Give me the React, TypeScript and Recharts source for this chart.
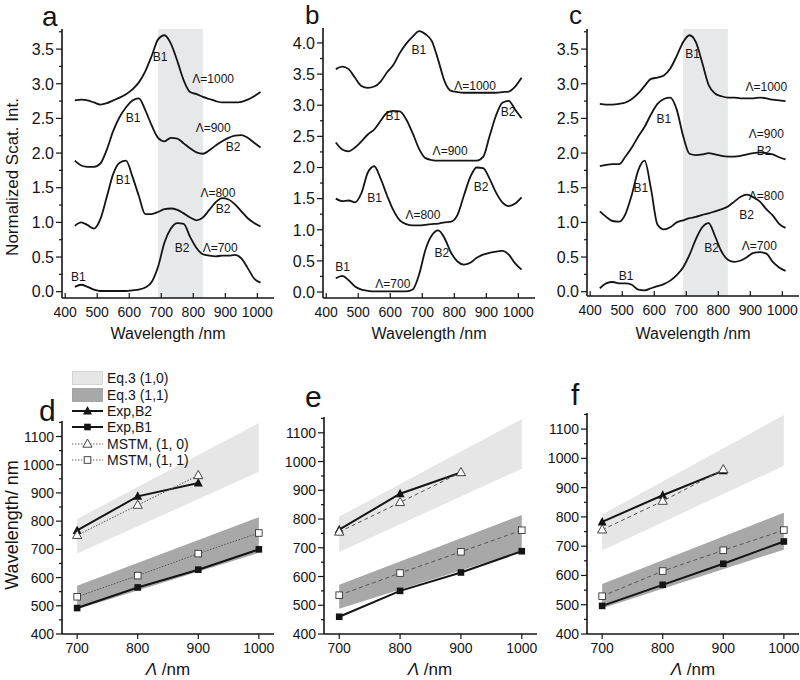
import React from "react";
import {
  LineChart,
  Line,
  ComposedChart,
  Area,
  XAxis,
  YAxis,
  ReferenceArea,
  ReferenceDot,
  Legend,
} from "recharts";

const FONT = '"Liberation Sans", Arial, Helvetica, sans-serif';
const INK = "#141414";
const LIGHT_BAND = "#e6e6e6";
const DARK_BAND = "#a8a8a8";
const SHADE = "#e7e8e9";

// ---------- top row: normalized scattering spectra (sampled every 20 nm) ----------
const wavelengths = [
  430, 450, 470, 490, 510, 530, 550, 570, 590, 610, 630, 650, 670, 690, 710,
  730, 750, 770, 790, 810, 830, 850, 870, 890, 910, 930, 950, 970, 990, 1010,
];

const a700 = [0.07, 0.1, 0.07, 0.03, 0.01, 0.01, 0.01, 0.01, 0.01, 0.02, 0.03, 0.06, 0.14, 0.36, 0.71, 0.91, 0.99, 0.98, 0.79, 0.63, 0.54, 0.52, 0.51, 0.52, 0.52, 0.53, 0.48, 0.34, 0.19, 0.13];
const a800 = [0.95, 1.0, 0.96, 0.91, 1.05, 1.37, 1.7, 1.86, 1.89, 1.66, 1.38, 1.12, 1.12, 1.15, 1.19, 1.2, 1.18, 1.13, 1.07, 1.03, 1.07, 1.18, 1.29, 1.35, 1.33, 1.26, 1.16, 1.06, 0.99, 0.94];
const a900 = [1.89, 1.82, 1.8, 1.8, 1.85, 2.05, 2.32, 2.52, 2.66, 2.76, 2.79, 2.62, 2.4, 2.22, 2.17, 2.22, 2.21, 2.14, 2.07, 2.01, 1.99, 2.04, 2.11, 2.17, 2.22, 2.25, 2.26, 2.22, 2.15, 2.08];
const a1000 = [2.76, 2.77, 2.76, 2.73, 2.7, 2.72, 2.76, 2.8, 2.85, 2.92, 3.02, 3.18, 3.4, 3.64, 3.7, 3.58, 3.33, 3.05, 2.88, 2.85, 2.81, 2.78, 2.75, 2.73, 2.73, 2.73, 2.74, 2.77, 2.82, 2.88];

const b700 = [0.22, 0.26, 0.19, 0.09, 0.04, 0.02, 0.01, 0.01, 0.01, 0.01, 0.01, 0.01, 0.04, 0.28, 0.68, 0.91, 0.99, 0.86, 0.63, 0.49, 0.44, 0.47, 0.55, 0.6, 0.63, 0.65, 0.66, 0.6, 0.46, 0.36];
const b800 = [1.5, 1.46, 1.47, 1.44, 1.59, 1.92, 2.02, 1.82, 1.55, 1.31, 1.15, 1.09, 1.07, 1.07, 1.08, 1.09, 1.1, 1.12, 1.13, 1.24, 1.55, 1.85, 2.0, 1.99, 1.82, 1.6, 1.44, 1.38, 1.42, 1.52];
const b900 = [2.4, 2.29, 2.26, 2.32, 2.42, 2.53, 2.61, 2.75, 2.88, 2.91, 2.9, 2.77, 2.55, 2.3, 2.15, 2.12, 2.11, 2.11, 2.11, 2.11, 2.11, 2.11, 2.11, 2.17, 2.5, 2.83, 3.04, 3.07, 2.93, 2.79];
const b1000 = [3.58, 3.62, 3.58, 3.44, 3.31, 3.28, 3.3, 3.38, 3.53, 3.65, 3.84, 3.99, 4.1, 4.19, 4.14, 4.03, 3.72, 3.38, 3.23, 3.21, 3.2, 3.2, 3.2, 3.2, 3.2, 3.2, 3.21, 3.22, 3.3, 3.44];

const c700 = [0.05, 0.12, 0.14, 0.12, 0.12, 0.1, 0.03, 0.02, 0.05, 0.08, 0.11, 0.16, 0.24, 0.35, 0.53, 0.76, 0.93, 0.99, 0.8, 0.58, 0.46, 0.43, 0.45, 0.5, 0.56, 0.57, 0.55, 0.43, 0.35, 0.3];
const c800 = [1.16, 1.08, 1.02, 1.01, 1.12, 1.4, 1.75, 1.89, 1.48, 0.97, 0.9, 0.93, 1.0, 1.03, 1.06, 1.08, 1.11, 1.13, 1.16, 1.19, 1.23, 1.3, 1.37, 1.4, 1.36, 1.3, 1.19, 1.1, 0.98, 0.92];
const c900 = [1.81, 1.83, 1.84, 1.84, 1.95, 2.08, 2.24, 2.38, 2.56, 2.71, 2.78, 2.8, 2.63, 2.25, 1.99, 1.97, 1.98, 2.0, 1.98, 1.96, 1.95, 1.95, 1.96, 1.98, 2.0, 2.01, 2.0, 1.98, 1.94, 1.91];
const c1000 = [2.71, 2.7, 2.7, 2.71, 2.73, 2.78, 2.86, 2.97, 3.07, 3.09, 3.12, 3.22, 3.4, 3.6, 3.7, 3.6, 3.3, 2.98, 2.86, 2.82, 2.8, 2.8, 2.79, 2.79, 2.79, 2.8, 2.79, 2.77, 2.76, 2.75];

const specXTicks = [400, 500, 600, 700, 800, 900, 1000];
const specYTicksAC = [0, 0.25, 0.5, 0.75, 1, 1.25, 1.5, 1.75, 2, 2.25, 2.5, 2.75, 3, 3.25, 3.5, 3.75];
const specYTicksB = [0, 0.25, 0.5, 0.75, 1, 1.25, 1.5, 1.75, 2, 2.25, 2.5, 2.75, 3, 3.25, 3.5, 3.75, 4];

type Note = { x: number; y: number; text: string };

const notesA: Note[] = [
  { x: 696, y: 3.39, text: "B1" },
  { x: 862, y: 3.07, text: "Λ=1000" },
  { x: 612, y: 2.51, text: "B1" },
  { x: 862, y: 2.36, text: "Λ=900" },
  { x: 924, y: 2.09, text: "B2" },
  { x: 581, y: 1.61, text: "B1" },
  { x: 877, y: 1.43, text: "Λ=800" },
  { x: 893, y: 1.19, text: "B2" },
  { x: 765, y: 0.63, text: "B2" },
  { x: 884, y: 0.63, text: "Λ=700" },
  { x: 441, y: 0.21, text: "B1" },
];
const notesB: Note[] = [
  { x: 689, y: 3.89, text: "B1" },
  { x: 865, y: 3.31, text: "Λ=1000" },
  { x: 608, y: 2.83, text: "B1" },
  { x: 968, y: 2.89, text: "B2" },
  { x: 787, y: 2.27, text: "Λ=900" },
  { x: 884, y: 1.69, text: "B2" },
  { x: 551, y: 1.51, text: "B1" },
  { x: 702, y: 1.24, text: "Λ=800" },
  { x: 761, y: 0.63, text: "B2" },
  { x: 451, y: 0.4, text: "B1" },
  { x: 608, y: 0.14, text: "Λ=700" },
];
const notesC: Note[] = [
  { x: 720, y: 3.43, text: "B1" },
  { x: 950, y: 2.95, text: "Λ=1000" },
  { x: 630, y: 2.49, text: "B1" },
  { x: 950, y: 2.28, text: "Λ=900" },
  { x: 943, y: 2.03, text: "B2" },
  { x: 558, y: 1.5, text: "B1" },
  { x: 950, y: 1.38, text: "Λ=800" },
  { x: 888, y: 1.11, text: "B2" },
  { x: 779, y: 0.63, text: "B2" },
  { x: 928, y: 0.66, text: "Λ=700" },
  { x: 512, y: 0.23, text: "B1" },
];

// ---------- bottom row: peak position vs lattice period ----------
const lambdas = [700, 800, 900, 1000];
const eq10Lo = [685, null, null, 975];
const eq10Hi = [808, null, null, 1148];
const eq11Lo = [488, null, null, 688];
const eq11Hi = [571, null, null, 814];

const expB2D = [767, 888, 935, null];
const expB1D = [492, 565, 628, 700];
const mstm10D = [750, 857, 962, null];
const mstm11D = [532, 607, 685, 758];

const expB2E = [763, 888, 962, null];
const expB1E = [460, 550, 614, 688];
const mstm10E = [755, 858, 962, null];
const mstm11E = [535, 612, 686, 761];

const expB2F = [783, 874, 958, null];
const expB1F = [496, 568, 640, 716];
const mstm10F = [756, 854, 962, null];
const mstm11F = [529, 615, 686, 755];

const lamXTicks = [700, 800, 900, 1000];
const lamYTicks = [400, 450, 500, 550, 600, 650, 700, 750, 800, 850, 900, 950, 1000, 1050, 1100, 1150];

const toSpecRows = (s700: number[], s800: number[], s900: number[], s1000: number[]) =>
  wavelengths.map((wl, i) => ({ wl, s700: s700[i], s800: s800[i], s900: s900[i], s1000: s1000[i] }));

const toLamRows = (b2: any[], b1: any[], m10: any[], m11: any[]) =>
  lambdas.map((lam, i) => ({
    lam,
    b2: b2[i],
    b1: b1[i],
    m10: m10[i],
    m11: m11[i],
    lo10: eq10Lo[i],
    hi10: eq10Hi[i],
    lo11: eq11Lo[i],
    hi11: eq11Hi[i],
  }));

// ---------- ticks ----------
const SpecYTick = ({ x, y, payload }: any) => {
  const v = payload.value;
  const major = Math.abs(v * 2 - Math.round(v * 2)) < 1e-6;
  return (
    <g>
      <line x1={x - (major ? 6 : 3)} x2={x} y1={y} y2={y} stroke={INK} strokeWidth={1.2} />
      {major && (
        <text x={x - 8} y={y} dy="0.36em" textAnchor="end" fontSize={16} fontFamily={FONT} fill={INK}>
          {v.toFixed(1)}
        </text>
      )}
    </g>
  );
};

const SpecXTick = ({ x, y, payload }: any) => (
  <g>
    <line x1={x} x2={x} y1={y} y2={y - 5} stroke={INK} strokeWidth={1.2} />
    <text x={x} y={y + 19} textAnchor="middle" fontSize={14} fontFamily={FONT} fill={INK}>
      {payload.value}
    </text>
  </g>
);

const LamYTick = ({ x, y, payload }: any) => {
  const v = payload.value;
  const major = v % 100 === 0;
  return (
    <g>
      <line x1={x - (major ? 6 : 3)} x2={x} y1={y} y2={y} stroke={INK} strokeWidth={1.2} />
      {major && (
        <text x={x - 8} y={y} dy="0.36em" textAnchor="end" fontSize={14} fontFamily={FONT} fill={INK}>
          {v}
        </text>
      )}
    </g>
  );
};

const LamXTick = ({ x, y, payload }: any) => (
  <g>
    <line x1={x} x2={x} y1={y} y2={y + 5} stroke={INK} strokeWidth={1.2} />
    <text x={x} y={y + 19} textAnchor="middle" fontSize={14} fontFamily={FONT} fill={INK}>
      {payload.value}
    </text>
  </g>
);

// ---------- markers ----------
const Marker = ({ cx, cy, kind }: any) => {
  if (cx == null || cy == null || Number.isNaN(cy)) return null;
  if (kind === "tri")
    return <polygon points={`${cx},${cy - 5} ${cx - 4.5},${cy + 3.5} ${cx + 4.5},${cy + 3.5}`} fill={INK} />;
  if (kind === "sq") return <rect x={cx - 3.3} y={cy - 3.3} width={6.6} height={6.6} fill={INK} />;
  if (kind === "otri")
    return (
      <polygon
        points={`${cx},${cy - 5} ${cx - 4.6},${cy + 3.2} ${cx + 4.6},${cy + 3.2}`}
        fill="#fff"
        stroke="#333"
        strokeWidth={0.9}
      />
    );
  return <rect x={cx - 3.3} y={cy - 3.3} width={6.6} height={6.6} fill="#fff" stroke="#333" strokeWidth={0.9} />;
};

const dotOf = (kind: string) => (p: any) =>
  p.value == null ? <g key={`${kind}-${p.index}`} /> : <Marker key={`${kind}-${p.index}`} cx={p.cx} cy={p.cy} kind={kind} />;

// ---------- legend (panel d) ----------
const legendItems = [
  { label: "Eq.3 (1,0)", kind: "box", fill: LIGHT_BAND, edge: "#cdcdcd" },
  { label: "Eq.3 (1,1)", kind: "box", fill: DARK_BAND, edge: "#999" },
  { label: "Exp,B2", kind: "tri" },
  { label: "Exp,B1", kind: "sq" },
  { label: "MSTM, (1, 0)", kind: "otri" },
  { label: "MSTM, (1, 1)", kind: "osq" },
];

const LegendBox = () => (
  <div style={{ fontFamily: FONT, fontSize: 14, color: INK }}>
    {legendItems.map((it) => (
      <div key={it.label} style={{ display: "flex", alignItems: "center", height: 16.4 }}>
        <svg width={32} height={16} style={{ display: "block" }}>
          {it.kind === "box" ? (
            <rect x={0.5} y={1.5} width={30} height={13} fill={it.fill} stroke={it.edge} strokeWidth={0.8} />
          ) : (
            <>
              <line
                x1={0}
                x2={31}
                y1={8}
                y2={8}
                stroke={it.kind.startsWith("o") ? "#666" : INK}
                strokeWidth={it.kind.startsWith("o") ? 1 : 2}
                strokeDasharray={it.kind.startsWith("o") ? "1.5 1.5" : undefined}
              />
              <Marker cx={15.5} cy={8} kind={it.kind} />
            </>
          )}
        </svg>
        <span style={{ marginLeft: 3, lineHeight: "16px", whiteSpace: "nowrap" }}>{it.label}</span>
      </div>
    ))}
  </div>
);

// ---------- panels ----------
type SpecPanelProps = {
  rows: any[];
  yDomain: [number, number];
  yTicks: number[];
  shaded: boolean;
  notes: Note[];
  plotTop: number;
  plotBottom: number;
};

const SpecPanel = ({ rows, yDomain, yTicks, shaded, notes, plotTop, plotBottom }: SpecPanelProps) => (
  <LineChart
    width={275}
    height={340}
    data={rows}
    margin={{ top: plotTop, right: 1, left: 0, bottom: 340 - plotBottom - 20 }}
  >
    {shaded && <ReferenceArea x1={690} x2={830} fill={SHADE} fillOpacity={1} stroke="none" />}
    <XAxis
      type="number"
      dataKey="wl"
      domain={[390, 1052]}
      ticks={specXTicks}
      allowDataOverflow
      interval={0}
      height={20}
      tickSize={0}
      tickMargin={0}
      tickLine={false}
      axisLine={{ stroke: INK, strokeWidth: 1.6 }}
      tick={(p: any) => <SpecXTick {...p} />}
    />
    <YAxis
      type="number"
      domain={yDomain}
      ticks={yTicks}
      allowDataOverflow
      interval={0}
      width={62}
      tickSize={0}
      tickMargin={0}
      tickLine={false}
      axisLine={{ stroke: INK, strokeWidth: 1.6 }}
      tick={(p: any) => <SpecYTick {...p} />}
    />
    {["s700", "s800", "s900", "s1000"].map((k) => (
      <Line
        key={k}
        dataKey={k}
        type="monotone"
        stroke={INK}
        strokeWidth={1.8}
        dot={false}
        activeDot={false}
        isAnimationActive={false}
      />
    ))}
    {notes.map((n, i) => (
      <ReferenceDot
        key={i}
        x={n.x}
        y={n.y}
        r={1}
        shape={(p: any) => (
          <text x={p.cx} y={p.cy} dy="0.35em" textAnchor="middle" fontSize={12} fontFamily={FONT} fill={INK}>
            {n.text}
          </text>
        )}
      />
    ))}
  </LineChart>
);

type LamPanelProps = {
  rows: any[];
  plotTop: number;
  width: number;
  dash: string;
  legend?: boolean;
};

const LamPanel = ({ rows, plotTop, width, dash, legend }: LamPanelProps) => (
  <ComposedChart width={width} height={340} data={rows} margin={{ top: plotTop, right: 1, left: 0, bottom: 26 }}>
    <XAxis
      type="number"
      dataKey="lam"
      domain={[675, 1025]}
      ticks={lamXTicks}
      allowDataOverflow
      interval={0}
      height={20}
      tickSize={0}
      tickMargin={0}
      tickLine={false}
      axisLine={{ stroke: INK, strokeWidth: 1.6 }}
      tick={(p: any) => <LamXTick {...p} />}
    />
    <YAxis
      type="number"
      domain={[400, 1155]}
      ticks={lamYTicks}
      allowDataOverflow
      interval={0}
      width={62}
      tickSize={0}
      tickMargin={0}
      tickLine={false}
      axisLine={{ stroke: INK, strokeWidth: 1.6 }}
      tick={(p: any) => <LamYTick {...p} />}
    />
    <Area
      dataKey={(r: any) => [r.lo10, r.hi10]}
      type="linear"
      fill={LIGHT_BAND}
      fillOpacity={1}
      stroke="none"
      connectNulls
      dot={false}
      activeDot={false}
      isAnimationActive={false}
    />
    <Area
      dataKey={(r: any) => [r.lo11, r.hi11]}
      type="linear"
      fill={DARK_BAND}
      fillOpacity={1}
      stroke="none"
      connectNulls
      dot={false}
      activeDot={false}
      isAnimationActive={false}
    />
    <Line dataKey="b2" type="linear" stroke={INK} strokeWidth={2} dot={dotOf("tri")} activeDot={false} isAnimationActive={false} />
    <Line dataKey="b1" type="linear" stroke={INK} strokeWidth={2} dot={dotOf("sq")} activeDot={false} isAnimationActive={false} />
    <Line dataKey="m10" type="linear" stroke="#555" strokeWidth={1} strokeDasharray={dash} dot={dotOf("otri")} activeDot={false} isAnimationActive={false} />
    <Line dataKey="m11" type="linear" stroke="#555" strokeWidth={1} strokeDasharray={dash} dot={dotOf("osq")} activeDot={false} isAnimationActive={false} />
    {legend && (
      <Legend
        layout="horizontal"
        verticalAlign="middle"
        align="center"
        wrapperStyle={{ left: 72, top: 30, width: 190, height: 100 }}
        content={() => <LegendBox />}
      />
    )}
  </ComposedChart>
);

const Title = ({ x, y, size, children, rotate }: any) => (
  <text
    x={x}
    y={y}
    fontSize={size}
    fontFamily={FONT}
    fill={INK}
    textAnchor="middle"
    transform={rotate ? `rotate(-90 ${x} ${y})` : undefined}
  >
    {children}
  </text>
);

export default function App() {
  return (
    <div
      style={{
        position: "absolute",
        left: 0,
        top: 0,
        width: 800,
        height: 680,
        overflow: "hidden",
        background: "#fff",
        fontFamily: FONT,
      }}
    >
      <div style={{ position: "absolute", left: 0, top: 0 }}>
        <SpecPanel rows={toSpecRows(a700, a800, a900, a1000)} yDomain={[-0.091, 3.79]} yTicks={specYTicksAC} shaded notes={notesA} plotTop={29} plotBottom={298} />
      </div>
      <div style={{ position: "absolute", left: 261, top: 0 }}>
        <SpecPanel rows={toSpecRows(b700, b800, b900, b1000)} yDomain={[-0.096, 4.24]} yTicks={specYTicksB} shaded={false} notes={notesB} plotTop={28} plotBottom={298} />
      </div>
      <div style={{ position: "absolute", left: 525, top: 0 }}>
        <SpecPanel rows={toSpecRows(c700, c800, c900, c1000)} yDomain={[-0.062, 3.79]} yTicks={specYTicksAC} shaded notes={notesC} plotTop={29} plotBottom={296} />
      </div>

      <div style={{ position: "absolute", left: 0, top: 340 }}>
        <LamPanel rows={toLamRows(expB2D, expB1D, mstm10D, mstm11D)} plotTop={81} width={275} dash="1.5 1.5" legend />
      </div>
      <div style={{ position: "absolute", left: 262, top: 340 }}>
        <LamPanel rows={toLamRows(expB2E, expB1E, mstm10E, mstm11E)} plotTop={77} width={276} dash="4 3" />
      </div>
      <div style={{ position: "absolute", left: 525, top: 340 }}>
        <LamPanel rows={toLamRows(expB2F, expB1F, mstm10F, mstm11F)} plotTop={73} width={275} dash="4 3" />
      </div>

      <svg width={800} height={680} style={{ position: "absolute", left: 0, top: 0, pointerEvents: "none" }}>
        <text x={42} y={26} fontSize={28} fontFamily={FONT} fill={INK}>a</text>
        <text x={305} y={24} fontSize={26} fontFamily={FONT} fill={INK}>b</text>
        <text x={569} y={24} fontSize={26} fontFamily={FONT} fill={INK}>c</text>
        <text x={39} y={421} fontSize={30} fontFamily={FONT} fill={INK}>d</text>
        <text x={305} y={407} fontSize={30} fontFamily={FONT} fill={INK}>e</text>
        <text x={571} y={405} fontSize={30} fontFamily={FONT} fill={INK}>f</text>

        <Title x={18} y={177} size={17} rotate>Normalized Scat. Int.</Title>
        <Title x={18} y={525} size={18} rotate>Wavelength/ nm</Title>

        <Title x={168} y={339} size={16}>Wavelength /nm</Title>
        <Title x={429} y={339} size={16}>Wavelength /nm</Title>
        <Title x={693} y={339} size={16}>Wavelength /nm</Title>

        {[168, 430, 693].map((cx) => (
          <Title key={cx} x={cx} y={675} size={17}>
            <tspan fontStyle="italic">Λ</tspan> /nm
          </Title>
        ))}
      </svg>
    </div>
  );
}
